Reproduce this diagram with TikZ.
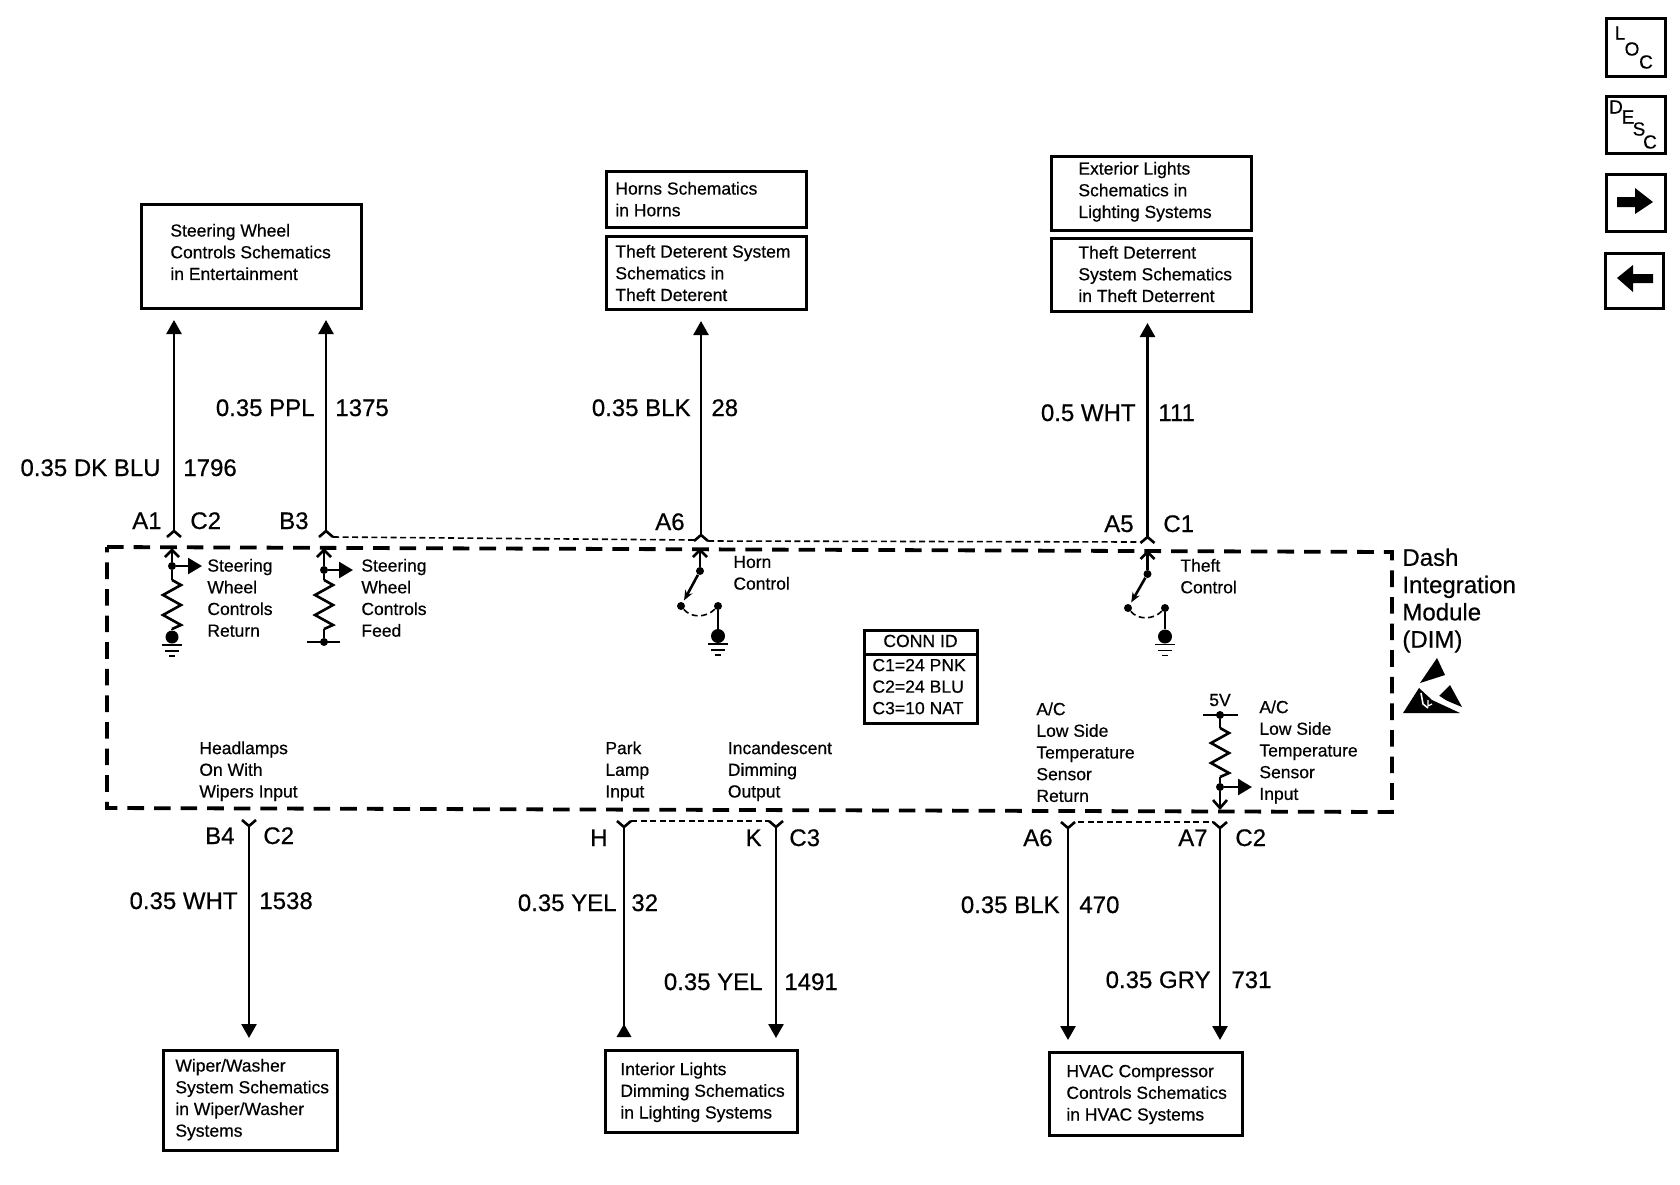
\documentclass[tikz,border=0pt]{standalone}
\usepackage{fontspec}
\setmainfont[FakeBold=0.5]{Liberation Sans}
\usetikzlibrary{arrows.meta,calc,positioning}
\tikzstyle{wire}   =[line width=1.3pt, line join=miter]
\tikzstyle{arrow}  =[wire, -{Triangle[length=7pt,width=7.5pt]}]
\tikzstyle{tap}    =[wire, -{Triangle[length=7pt,width=8pt]}]
\tikzstyle{infobox}=[draw, line width=1.5pt, inner sep=0pt, outer sep=0pt, anchor=north west]
\tikzstyle{modbox} =[line width=1.9pt, dash pattern=on 8.3pt off 5pt]
\tikzstyle{shield} =[line width=.8pt, dash pattern=on 3pt off 1.8pt]
\tikzstyle{dot}    =[circle, fill=black, minimum size=4pt, inner sep=0pt]
\tikzstyle{gnddot} =[circle, fill=black, minimum size=7pt, inner sep=0pt]
\tikzstyle{txt}    =[anchor=north west, inner sep=0pt, align=left,
                     font=\fontsize{8.75}{10.85}\selectfont]
\tikzstyle{conntxt}=[anchor=north west, inner sep=0pt, align=left,
                     font=\fontsize{8.8}{10.75}\selectfont]
\tikzstyle{lblL}   =[anchor=base east, inner sep=0pt, font=\fontsize{12}{14}\selectfont]
\tikzstyle{lblR}   =[anchor=base west, inner sep=0pt, font=\fontsize{12}{14}\selectfont]
\tikzstyle{iconltr}=[inner sep=0pt, font=\fontsize{9.5}{11}\selectfont]
% resistor going down from a named coordinate
\newcommand{\zigres}[1]{\draw[wire] (#1) -- ++(9,5) -- ++(-18,10) -- ++(18,10) -- ++(-18,10) -- ++(18,10) -- ++(-9,4);}
% ground under a named node
\newcommand{\gndmark}[1]{
    \draw[wire, line width=.9pt] ([shift={(-10,8)}]#1.center) -- ++(20,0);
    \draw[wire, line width=.9pt] ([shift={(-7,14)}]#1.center) -- ++(14,0);
    \draw[wire, line width=.9pt] ([shift={(-3,19)}]#1.center) -- ++(6,0);
}
\begin{document}
\begin{tikzpicture}[x=.5pt, y=-.5pt]
    \useasboundingbox (0,0) rectangle (1680,1184);

    % boxes at the top
    \node[infobox, minimum width=110pt, minimum height=52pt] (wheelbox) at (141,204) {};
    \node[txt] (wheeltxt) at (170,223.5) {Steering Wheel\\Controls Schematics\\in Entertainment};
    \node[infobox, minimum width=100pt, minimum height=28pt] (hornbox) at (606,171) {};
    \node[txt] (horntxt) at (615,181.5) {Horns Schematics\\in Horns};
    \node[infobox, minimum width=100pt, minimum height=36.5pt] (theftboxA) at (606,236) {};
    \node[txt] (theftAtxt) at (615,244.5) {Theft Deterent System\\Schematics in\\Theft Deterent};
    \node[infobox, minimum width=100pt, minimum height=37pt] (extbox) at (1051,156) {};
    \node[txt] (exttxt) at (1078,161.5) {Exterior Lights\\Schematics in\\Lighting Systems};
    \node[infobox, minimum width=100pt, minimum height=36.5pt] (theftboxB) at (1051,238) {};
    \node[txt] (theftBtxt) at (1078,245.5) {Theft Deterrent\\System Schematics\\in Theft Deterrent};

    % boxes at the bottom
    \node[infobox, minimum width=87pt, minimum height=50pt] (wiperbox) at (163,1050) {};
    \node[txt] (wipertxt) at (175,1058.5) {Wiper/Washer\\System Schematics\\in Wiper/Washer\\Systems};
    \node[infobox, minimum width=96pt, minimum height=41pt] (intbox) at (605,1050) {};
    \node[txt] (inttxt) at (620,1062) {Interior Lights\\Dimming Schematics\\in Lighting Systems};
    \node[infobox, minimum width=96.5pt, minimum height=41.5pt] (hvacbox) at (1049,1052) {};
    \node[txt] (hvactxt) at (1066,1064.5) {HVAC Compressor\\Controls Schematics\\in HVAC Systems};

    % module outline
    \draw[modbox] (107,547) -- (1392,552) -- (1392,812) -- (107,808) -- cycle;

    % wires going up
    \foreach \name/\px/\py/\goal in {a1/174/531/wheelbox, b3/326/531/wheelbox,
                                     a6t/701/535/theftboxA, a5/1147.5/537/theftboxB}{
        \coordinate (\name) at (\px,\py);
        \draw[wire] ([shift={(-7,6)}]\name) -- (\name) -- ([shift={(7,6)}]\name);
        \draw[arrow, shorten >=6pt] (\name) -- (\name |- \goal.south);
    }
    \draw[shield] ([shift={(7,6)}]b3) -- ([shift={(-7,5)}]a6t);
    \draw[shield] ([shift={(7,6)}]a6t) -- ([shift={(-7,5)}]a5);

    % wires going down
    \foreach \name/\px/\py/\goal in {b4/249/826/wiperbox, k/776/827/intbox,
                                     a6b/1068/828/hvacbox, a7/1220/828/hvacbox}{
        \coordinate (\name) at (\px,\py);
        \draw[wire] ([shift={(-7,-6)}]\name) -- (\name) -- ([shift={(7,-6)}]\name);
        \draw[arrow, shorten >=6pt] (\name) -- (\name |- \goal.north);
    }
    \coordinate (h) at (624,827);
    \coordinate (hend) at (624,1037);
    \draw[wire] ([shift={(-7,-6)}]h) -- (h) -- ([shift={(7,-6)}]h);
    \draw[wire] (h) -- (hend);
    \fill ($(hend)+(0,-13)$) -- ++(7.5,13) -- ++(-15,0) -- cycle;
    \draw[shield] ([shift={(7,-6)}]h) -- ([shift={(-7,-6)}]k);
    \draw[shield] ([shift={(10,-6)}]a6b) -- ([shift={(-7,-6)}]a7);

    % wire labels
    \foreach \name/\px/\py/\t in {lA1/162/529/A1, lB3/309/529/B3, lA6/685/530/A6, lA5/1134/532/A5,
                                  lB4/235/844/B4, lH/608/846/H, lK/762/846/K, lA6b/1053/846/A6, lA7/1208/846/A7,
                                  w1/161/476/0.35 DK BLU, w2/315/416/0.35 PPL, w3/691/416/0.35 BLK,
                                  w4/1136/421/0.5 WHT, w5/238/909/0.35 WHT, w6/617/911/0.35 YEL,
                                  w7/763/990/0.35 YEL, w8/1060/913/0.35 BLK, w9/1211/988/0.35 GRY}
        \node[lblL] (\name) at (\px,\py) {\t};
    \foreach \name/\px/\py/\t in {lC2a/190/529/C2, lC1/1163/532/C1, lC2b/263/844/C2, lC3/789/846/C3, lC2c/1235/846/C2,
                                  n1/183/476/1796, n2/335/416/1375, n3/711/416/28, n4/1158/421/111,
                                  n5/259/909/1538, n6/631/911/32, n7/784/990/1491, n8/1079/913/470, n9/1231/988/731}
        \node[lblR] (\name) at (\px,\py) {\t};

    % steering wheel return
    \coordinate (retpin) at (172,550);
    \node[dot] (retjoin) at (172,566) {};
    \coordinate (retout) at (202,566);
    \coordinate (rettop) at (172,580);
    \node[gnddot, minimum size=6.5pt] (retgnd) at (172,637) {};
    \draw[wire] ([shift={(-7,7)}]retpin) -- (retpin) -- ([shift={(7,7)}]retpin);
    \draw[wire] (retpin) -- (retjoin) -- (rettop);
    \draw[tap] (retjoin) -- (retout);
    \zigres{rettop}
    \draw[wire] ($(rettop)+(0,49)$) -- (retgnd);
    \gndmark{retgnd}
    \node[txt] (rettxt) at (207,558.5) {Steering\\Wheel\\Controls\\Return};

    % steering wheel feed
    \coordinate (feedpin) at (324,550);
    \node[dot] (feedjoin) at (324,570) {};
    \coordinate (feedout) at (353,570);
    \coordinate (feedtop) at (324,580);
    \node[dot] (feedend) at (324,642) {};
    \draw[wire] ([shift={(-7,7)}]feedpin) -- (feedpin) -- ([shift={(7,7)}]feedpin);
    \draw[wire] (feedpin) -- (feedjoin) -- (feedtop);
    \draw[tap] (feedjoin) -- (feedout);
    \zigres{feedtop}
    \draw[wire] ($(feedtop)+(0,49)$) -- (feedend);
    \draw[wire] ([xshift=-8.5pt]feedend.center) -- ([xshift=8pt]feedend.center);
    \node[txt] (feedtxt) at (361,558.5) {Steering\\Wheel\\Controls\\Feed};

    % horn and theft switches
    \foreach \sw/\px/\pin/\ty/\by/\gy/\lx/\rx in {horn/700/550/571/606/636/681/718, theft/1147.5/552/574/608/636.5/1128/1165}{
        \coordinate (\sw pin) at (\px,\pin);
        \node[dot] (\sw top) at (\px,\ty) {};
        \node[dot] (\sw left) at (\lx,\by) {};
        \node[dot] (\sw right) at (\rx,\by) {};
        \node[gnddot] (\sw gnd) at (\rx,\gy) {};
        \draw[wire] ([shift={(-7,7)}]\sw pin) -- (\sw pin) -- ([shift={(7,7)}]\sw pin);
        \draw[wire] (\sw pin) -- (\sw top);
        \draw[wire, -{Stealth[length=5pt,width=4pt]}, shorten >=1pt] (\sw top) -- (\sw left);
        \draw[wire] (\sw right) -- (\sw gnd);
        \draw[shield] (\sw left) .. controls ($(\sw left)+(10,12)$) and ($(\sw right)+(-12,12)$) .. (\sw right);
        \gndmark{\sw gnd}
    }
    \node[txt] (horntext) at (733,555.5) {Horn\\Control};
    \node[txt] (thefttext) at (1180,558.5) {Theft\\Control};

    % connector table
    \node[infobox, minimum width=56.5pt, minimum height=46.5pt] (connbox) at (864,630) {};
    \coordinate (connL) at (864,654);
    \coordinate (connR) at (977,654);
    \draw[line width=1.5pt] (connL) -- (connR);
    \node[conntxt, anchor=base] (connhead) at (920.5,647) {CONN ID};
    \node[conntxt] (conntxt) at (872,658.5) {C1=24 PNK\\C2=24 BLU\\C3=10 NAT};

    % lower circuit
    \node[txt] (headtxt) at (199,741) {Headlamps\\On With\\Wipers Input};
    \node[txt] (parktxt) at (605,741) {Park\\Lamp\\Input};
    \node[txt] (dimtxt) at (727.5,741) {Incandescent\\Dimming\\Output};
    \node[txt] (rettemp) at (1036,702) {A/C\\Low Side\\Temperature\\Sensor\\Return};
    \node[txt] (inptemp) at (1259,700) {A/C\\Low Side\\Temperature\\Sensor\\Input};
    \node[txt, anchor=base] (fivev) at (1220,706) {5V};
    \node[dot] (vref) at (1220,715) {};
    \coordinate (vtop) at (1220,728);
    \node[dot] (vjoin) at (1220,787) {};
    \coordinate (vout) at (1252,787);
    \coordinate (vpin) at (1220,808);
    \draw[wire] ([xshift=-8.5pt]vref.center) -- ([xshift=9pt]vref.center);
    \draw[wire] (vref) -- (vtop);
    \zigres{vtop}
    \draw[wire] ($(vtop)+(0,49)$) -- (vjoin) -- (vpin);
    \draw[wire] ([shift={(-7,-8)}]vpin) -- (vpin) -- ([shift={(7,-8)}]vpin);
    \draw[tap] (vjoin) -- (vout);

    % module name
    \node[anchor=north west, inner sep=0pt, align=left, font=\fontsize{12}{13.65}\selectfont] (dimtxtname) at (1402,548) {Dash\\Integration\\Module\\(DIM)};
    \fill (1437,658) -- (1445,675) -- (1420,683) -- cycle;
    \fill (1403,713) -- (1419,688) -- (1432,700) -- (1460,713) -- cycle;
    \fill (1450,685) -- (1462,707) -- (1438,697) -- cycle;
    \draw[white, line width=1pt] (1436,695) -- (1462,712);
    \draw[white, line width=.8pt] (1421,693) -- (1423,704) -- (1428,708);
    \draw[white, line width=.6pt] (1428,700) -- (1428,706) -- (1432,704);

    % icons on the right
    \node[infobox, minimum width=29.5pt, minimum height=29pt] (locbox) at (1606,18) {};
    \node[iconltr] (locL) at (1620,33) {L};
    \node[iconltr] (locO) at (1632,49) {O};
    \node[iconltr] (locC) at (1646,62) {C};
    \node[infobox, minimum width=29.5pt, minimum height=28.5pt] (descbox) at (1606,96) {};
    \node[iconltr] (descD) at (1616,107) {D};
    \node[iconltr] (descE) at (1628,117) {E};
    \node[iconltr] (descS) at (1639,129) {S};
    \node[iconltr] (descC) at (1650,142) {C};
    \node[infobox, minimum width=29.5pt, minimum height=28.5pt] (nextbox) at (1606,174) {};
    \fill (1617,197) -- (1635,197) -- (1635,188) -- (1653,202) -- (1635,214) -- (1635,207) -- (1617,207) -- cycle;
    \node[infobox, minimum width=29pt, minimum height=27.5pt] (prevbox) at (1605,253) {};
    \fill (1653,274) -- (1633,274) -- (1633,265) -- (1617,278) -- (1633,292) -- (1633,283) -- (1653,283) -- cycle;
\end{tikzpicture}
\end{document}
